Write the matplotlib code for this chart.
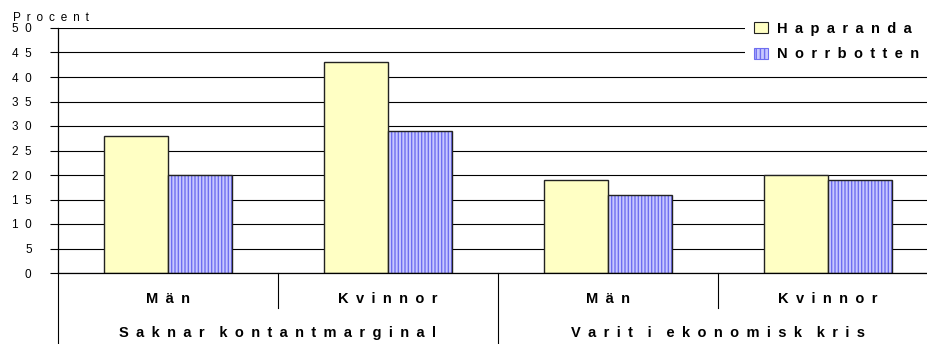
import numpy as np
import matplotlib.pyplot as plt
from matplotlib.patches import Patch
from matplotlib.transforms import blended_transform_factory

plt.rcParams['font.family'] = ['Liberation Sans', 'DejaVu Sans']
plt.rcParams['hatch.linewidth'] = 1.0

# data
groups = ['Saknar kontantmarginal', 'Varit i ekonomisk kris']
sexes = ['Män', 'Kvinnor', 'Män', 'Kvinnor']
series = ['Haparanda', 'Norrbotten']
haparanda = [28, 43, 19, 20]
norrbotten = [20, 29, 16, 19]
yticks = [0, 5, 10, 15, 20, 25, 30, 35, 40, 45, 50]

EN = '\u2002'


def spaced(s, gap=EN):
    # the original chart draws its text with wide letter spacing
    return gap.join(s).replace(gap + ' ' + gap, gap * 2)


W, H = 928, 344
fig = plt.figure(figsize=(W / 100, H / 100), dpi=100)
ax = fig.add_axes([58 / W, 1 - 273 / H, 880 / W, 245 / H])

x = np.arange(len(sexes))
bw = 0.29
yellow = '#FFFFC4'
blue_face = '#C8C8FF'
blue_hatch = '#6E6EF0'

ax.bar(x - bw / 2, haparanda, bw, color=yellow, edgecolor='#222222', linewidth=1.0, zorder=3)
ax.bar(x + bw / 2, norrbotten, bw, color=blue_face, edgecolor=blue_hatch, hatch='|||||',
       linewidth=0, zorder=3)
ax.bar(x + bw / 2, norrbotten, bw, fill=False, edgecolor='#222222', linewidth=1.0, zorder=4)

ax.set_xlim(-0.5, len(sexes) - 0.5)
ax.set_ylim(0, 50)
ax.set_yticks(yticks)
ax.set_yticklabels([spaced(str(v), '  ') for v in yticks], fontsize=8.5)
ax.yaxis.grid(True, color='black', linewidth=0.8, zorder=0)
ax.tick_params(axis='y', length=6, width=0.8, pad=13, direction='out')
ax.set_xticks([])
for side in ['top', 'right', 'bottom']:
    ax.spines[side].set_visible(False)
ax.spines['left'].set_linewidth(0.9)
ax.axhline(0, color='black', linewidth=0.9, zorder=5, clip_on=False)

ax.text(-0.051, 1.018, spaced('Procent'), transform=ax.transAxes,
        fontsize=8.5, ha='left', va='bottom')

# multi-level category axis
tr = blended_transform_factory(ax.transData, ax.transAxes)
for i, s in enumerate(sexes):
    ax.text(i, -0.106, spaced(s), transform=tr, ha='center', va='center',
            fontsize=10.5, fontweight='bold')
for b in [0.5, 2.5]:
    ax.plot([b, b], [0, -0.143], transform=tr, color='black', linewidth=0.8, clip_on=False)
for j, g in enumerate(groups):
    ax.text(2 * j + 0.5, -0.246, spaced(g), transform=tr, ha='center', va='center',
            fontsize=10.5, fontweight='bold')
for b in [-0.5, 1.5]:
    ax.plot([b, b], [0, -0.3], transform=tr, color='black', linewidth=0.8, clip_on=False)

handles = [Patch(facecolor=yellow, edgecolor='#222222', linewidth=0.8),
           Patch(facecolor=blue_face, edgecolor=blue_hatch, hatch='||||', linewidth=0.8)]
leg = fig.legend(handles, [spaced(s) for s in series], loc='upper right',
                 bbox_to_anchor=(1.0, 1 - 13 / H), frameon=True, fancybox=False,
                 prop={'weight': 'bold', 'size': 10.5}, handlelength=1.0, handleheight=0.8,
                 handletextpad=0.6, labelspacing=0.8, borderpad=0.6, borderaxespad=0.0)
leg.get_frame().set_facecolor('white')
leg.get_frame().set_edgecolor('none')
leg.get_frame().set_alpha(1)
leg.set_zorder(10)

fig.savefig('out.png', dpi=100)
